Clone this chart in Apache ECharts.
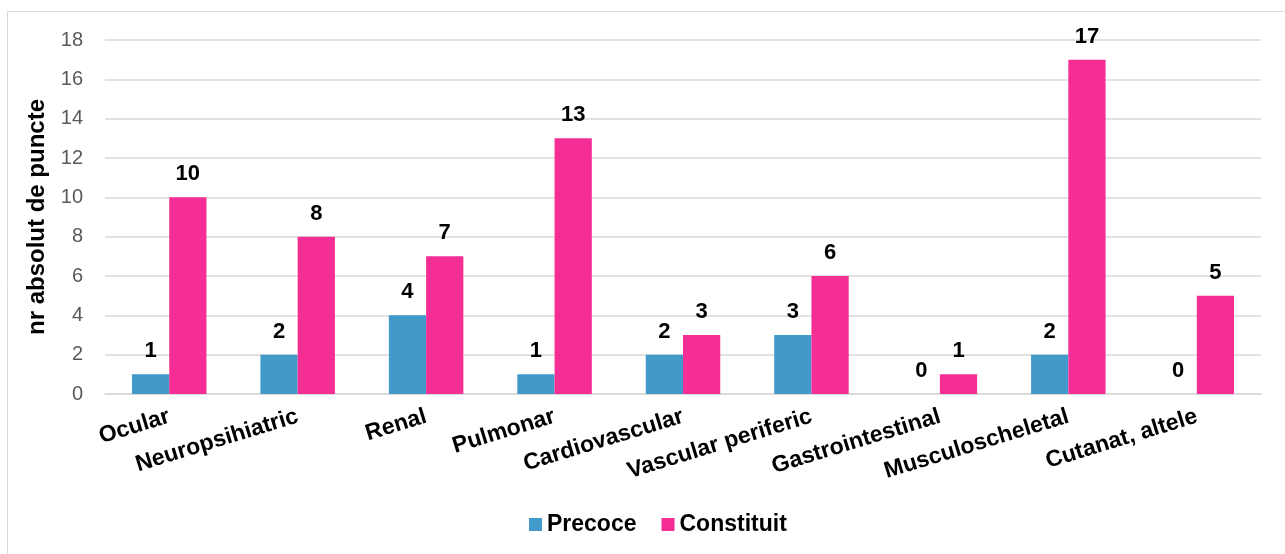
<!DOCTYPE html>
<html><head><meta charset="utf-8">
<script src="https://cdn.jsdelivr.net/npm/echarts@6/dist/echarts.min.js"></script>
<style>html,body{margin:0;padding:0;background:#fff}#c{width:1285px;height:554px}</style>
</head><body><div id="c"></div>
<script>
const categories = ["Ocular","Neuropsihiatric","Renal","Pulmonar","Cardiovascular","Vascular periferic","Gastrointestinal","Musculoscheletal","Cutanat, altele"];
const precoce = [1,2,4,1,2,3,0,2,0];
const constituit = [10,8,7,13,3,6,1,17,5];
const yTicks = {min:0,max:18,interval:2};
const F = '"Liberation Sans", Arial, sans-serif';
const chart = echarts.init(document.getElementById('c'));
const lbl = {show:true,position:'top',fontFamily:F,fontSize:22,fontWeight:'bold',color:'#000',distance:12};
chart.setOption({
  animation:false,
  graphic:[{type:'rect',shape:{x:7.5,y:11.5,width:1290,height:560},style:{fill:'none',stroke:'#d9d9d9',lineWidth:1},silent:true}],
  grid:{left:105,right:24,top:40,bottom:160},
  legend:{bottom:13,left:524,itemWidth:13,itemHeight:13,itemGap:25,icon:'rect',
    textStyle:{fontFamily:F,fontSize:23,fontWeight:'bold',color:'#000'}},
  xAxis:{type:'category',data:categories,
    axisLine:{lineStyle:{color:'#d9d9d9',width:1.5}},axisTick:{show:false},
    axisLabel:{rotate:17,interval:0,margin:22,fontFamily:F,fontSize:23,fontWeight:'bold',color:'#000'}},
  yAxis:{type:'value',min:yTicks.min,max:yTicks.max,interval:yTicks.interval,
    name:'nr absolut de puncte',nameLocation:'middle',nameGap:55,
    nameTextStyle:{fontFamily:F,fontSize:24,fontWeight:'bold',color:'#000'},
    axisLine:{show:false},axisTick:{show:false},
    axisLabel:{fontFamily:F,fontSize:20,color:'#595959',margin:22},
    splitLine:{lineStyle:{color:'#d9d9d9',width:1.5}}},
  series:[
    {name:'Precoce',type:'bar',data:precoce,barWidth:'29%',barGap:'0%',itemStyle:{color:'#419AC9'},label:lbl},
    {name:'Constituit',type:'bar',data:constituit,barWidth:'29%',itemStyle:{color:'#F52E96'},label:lbl}
  ]
});
</script></body></html>
